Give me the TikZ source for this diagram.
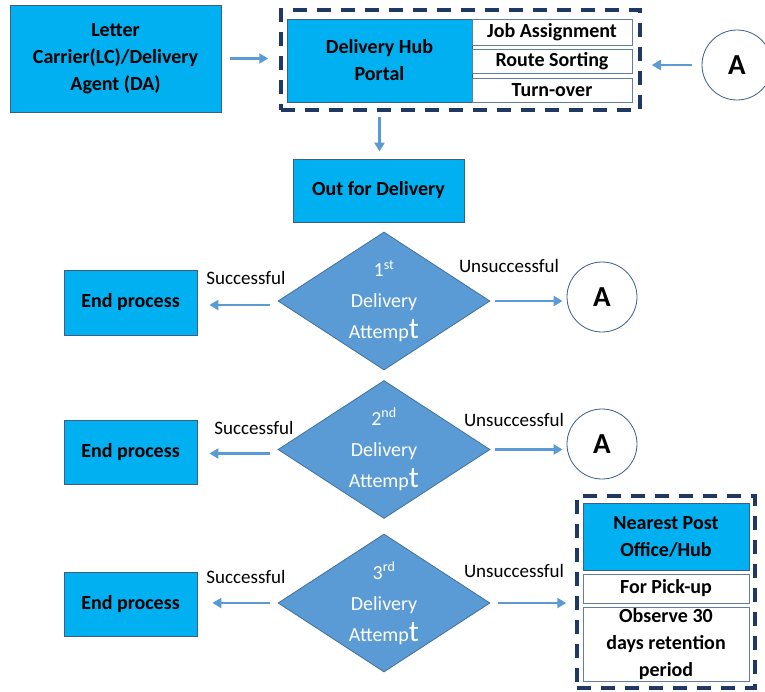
\documentclass[tikz,border=0pt]{standalone}
\usepackage{fontspec}
\setmainfont{Carlito}
\usepackage{tikz}
\usetikzlibrary{arrows.meta}
\usetikzlibrary{shapes.geometric}

\definecolor{boxcyan}{HTML}{00B0F0}
\definecolor{boxline}{HTML}{3A5E86}
\definecolor{grpline}{HTML}{203864}
\definecolor{dmfill}{HTML}{5B9BD5}
\definecolor{dmline}{HTML}{41719C}
\definecolor{arrcol}{HTML}{5B9BD5}

\begin{document}
\begin{tikzpicture}
[x=1pt,y=-1pt
,bx/.style={rectangle,draw=boxline,line width=0.8pt,fill=boxcyan,inner sep=0pt,align=center,font=\fontsize{20}{27}\selectfont\bfseries}
,sub/.style={rectangle,draw=boxline!80,line width=0.8pt,fill=white,inner sep=0pt,align=center,font=\fontsize{20}{27}\selectfont\bfseries}
,grp/.style={rectangle,draw=grpline,line width=3.5pt,dash pattern=on 14pt off 10pt,inner sep=0pt}
,dm/.style={diamond,aspect=1.54,draw=dmline,line width=0.8pt,fill=dmfill,inner sep=-12pt,minimum width=212pt,minimum height=138pt,text=white,align=center,font=\fontsize{20}{31}\selectfont}
,conn/.style={circle,draw=boxline,line width=0.8pt,fill=white,minimum size=70pt,inner sep=0pt,font=\fontsize{29}{29}\selectfont\bfseries}
,lbl/.style={font=\fontsize{19}{22}\selectfont,inner sep=0pt}
,ar/.style={draw=arrcol,line width=2.5pt,arrows={-Triangle[length=9pt,width=10pt]}}]
\useasboundingbox (0,0) rectangle (765,691);

% top row
\node[bx,minimum width=211pt,minimum height=107pt] (lc) at (115.5,58.5) {Letter\\Carrier(LC)/Delivery\\Agent (DA)};
\node[grp,minimum width=359pt,minimum height=100pt] (grp1) at (460.5,60) {};
\node[bx,minimum width=185pt,minimum height=83pt] (hub) at (379.5,60.5) {Delivery Hub\\Portal};
\node[sub,minimum width=160pt,minimum height=26pt] (job) at (552,32) {Job Assignment};
\node[sub,minimum width=160pt,minimum height=24pt] (route) at (552,61) {Route Sorting};
\node[sub,minimum width=160pt,minimum height=24pt] (turn) at (552,90) {Turn-over};
\node[conn] (a0) at (737,65) {A};

\node[bx,minimum width=171pt,minimum height=63pt] (out) at (378.5,190.5) {Out for Delivery};

% attempts
\node[dm] (d1) at (384,301) {1\textsuperscript{st}\\Delivery\\Attemp{\fontsize{30}{30}\selectfont t}};
\node[dm] (d2) at (384,449.5) {2\textsuperscript{nd}\\Delivery\\Attemp{\fontsize{30}{30}\selectfont t}};
\node[dm] (d3) at (384,603) {3\textsuperscript{rd}\\Delivery\\Attemp{\fontsize{30}{30}\selectfont t}};

\node[bx,minimum width=133pt,minimum height=65pt] (end1) at (130.5,302.5) {End process};
\node[bx,minimum width=133pt,minimum height=64pt] (end2) at (130.5,452) {End process};
\node[bx,minimum width=133pt,minimum height=64pt] (end3) at (130.5,604) {End process};

\node[conn] (a1) at (602,297) {A};
\node[conn] (a2) at (602,444) {A};

% final hub
\node[grp,minimum width=178pt,minimum height=192pt] (grp2) at (666,592) {};
\node[bx,minimum width=166pt,minimum height=67pt] (near) at (666,536.5) {Nearest Post\\Office/Hub};
\node[sub,minimum width=166pt,minimum height=29pt] (pick) at (666,588.5) {For Pick-up};
\node[sub,minimum width=166pt,minimum height=74pt] (keep) at (666,644) {Observe 30\\days retention\\period};

% labels
\node[lbl] (s1) at (246,278) {Successful};
\node[lbl] (u1) at (509,266) {Unsuccessful};
\node[lbl] (s2) at (254,428) {Successful};
\node[lbl] (u2) at (514,420) {Unsuccessful};
\node[lbl] (s3) at (246,577) {Successful};
\node[lbl] (u3) at (514,571) {Unsuccessful};

% arrows
\draw[ar,shorten <=9pt,shorten >=11pt] (lc.east) -- (lc.east -| grp1.west);
\draw[ar,shorten <=10pt,shorten >=10pt] (a0.west) -- (a0.west -| grp1.east);
\draw[ar,shorten <=5pt,shorten >=7pt] (hub.south |- grp1.south) -- (hub.south |- out.north);

\draw[ar,shorten <=8pt,shorten >=12pt] (d1.west) ++(0,4) coordinate (c1) -- (c1 -| end1.east);
\draw[ar,shorten <=5pt,shorten >=4pt] (d1.east) -- (d1.east -| a1.west);
\draw[ar,shorten <=8pt,shorten >=12pt] (d2.west) ++(0,4) coordinate (c2) -- (c2 -| end2.east);
\draw[ar,shorten <=5pt,shorten >=4pt] (d2.east) -- (d2.east -| a2.west);
\draw[ar,shorten <=8pt,shorten >=15pt] (d3.west) -- (d3.west -| end3.east);
\draw[ar,shorten <=8pt,shorten >=9pt] (d3.east) -- (d3.east -| grp2.west);
\end{tikzpicture}
\end{document}
